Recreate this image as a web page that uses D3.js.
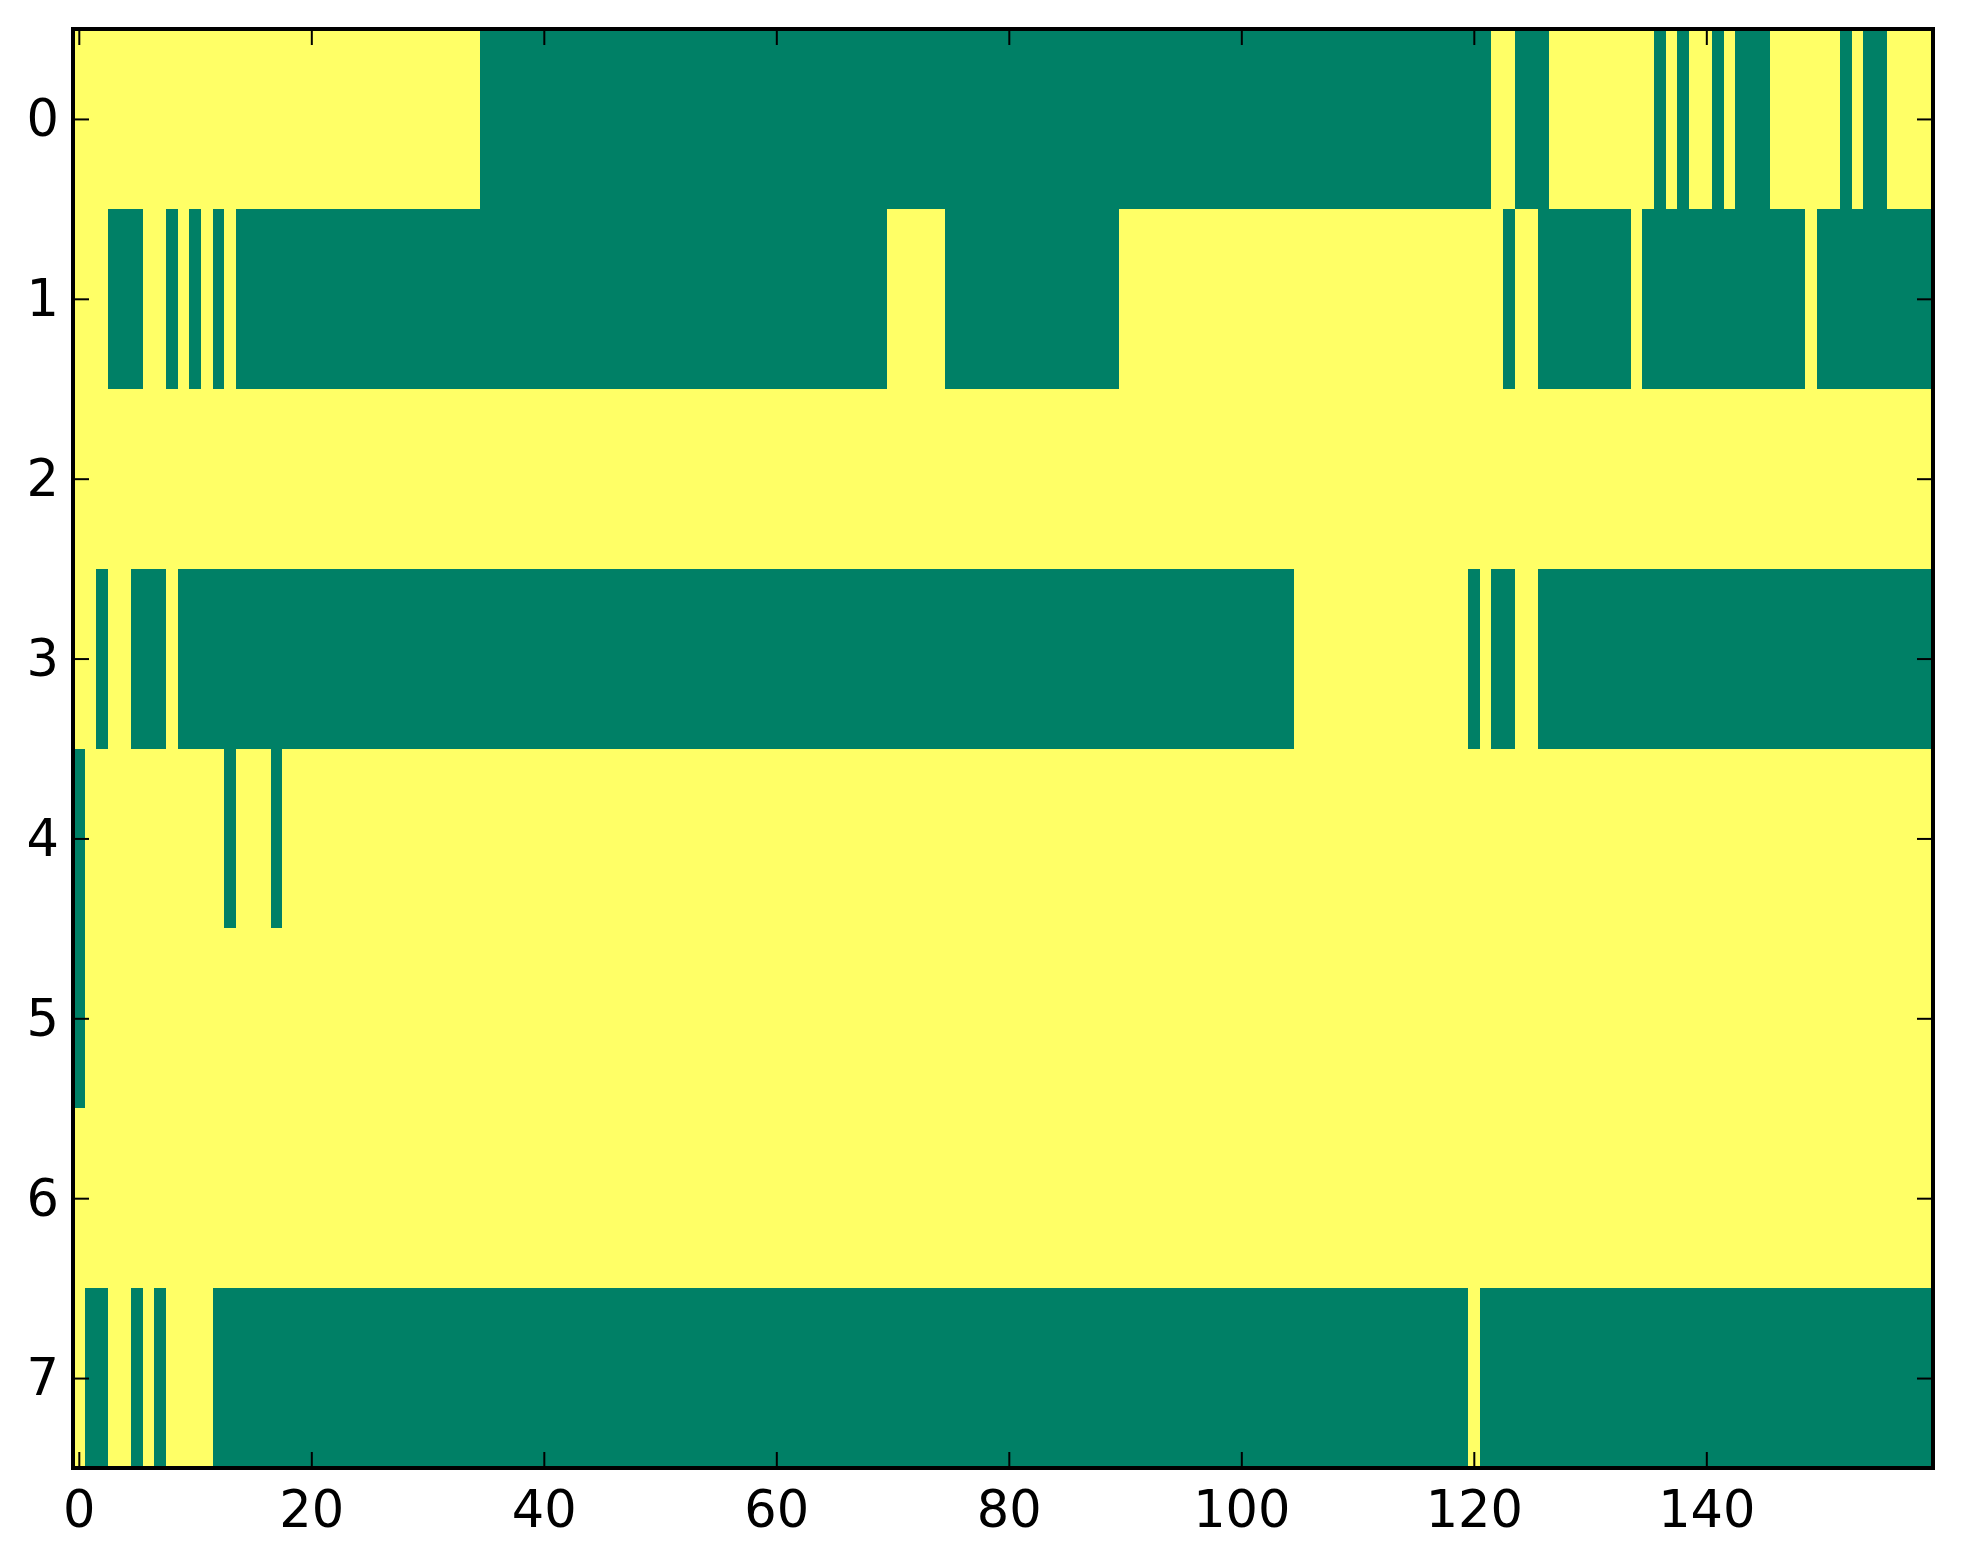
<!DOCTYPE html>
<html>
<head>
<meta charset="utf-8">
<script src="https://cdn.jsdelivr.net/npm/d3@7"></script>
<style>
  body { margin: 0; background: #ffffff; }
  text { font-family: "DejaVu Sans", sans-serif; }
</style>
</head>
<body>
<script>
// Grid values: 1 = yellow, 0 = green (groups of 10 columns)
var row0 = "1111111111 1111111111 1111111111 1111100000 0000000000 0000000000 0000000000 0000000000 0000000000 0000000000 0000000000 0000000000 0011000111 1111110101 1010001111 1101001111";
var row1 = "1110001101 0101000000 0000000000 0000000000 0000000000 0000000000 0000000000 1111100000 0000000000 1111111111 1111111111 1111111111 1110110000 0000100000 0000000001 0000000000";
var row2 = "1111111111 1111111111 1111111111 1111111111 1111111111 1111111111 1111111111 1111111111 1111111111 1111111111 1111111111 1111111111 1111111111 1111111111 1111111111 1111111111";
var row3 = "1101100010 0000000000 0000000000 0000000000 0000000000 0000000000 0000000000 0000000000 0000000000 0000000000 0000011111 1111111111 0100110000 0000000000 0000000000 0000000000";
var row4 = "0111111111 1110111011 1111111111 1111111111 1111111111 1111111111 1111111111 1111111111 1111111111 1111111111 1111111111 1111111111 1111111111 1111111111 1111111111 1111111111";
var row5 = "0111111111 1111111111 1111111111 1111111111 1111111111 1111111111 1111111111 1111111111 1111111111 1111111111 1111111111 1111111111 1111111111 1111111111 1111111111 1111111111";
var row6 = "1111111111 1111111111 1111111111 1111111111 1111111111 1111111111 1111111111 1111111111 1111111111 1111111111 1111111111 1111111111 1111111111 1111111111 1111111111 1111111111";
var row7 = "1001101011 1100000000 0000000000 0000000000 0000000000 0000000000 0000000000 0000000000 0000000000 0000000000 0000000000 0000000000 1000000000 0000000000 0000000000 0000000000";

var rows = [row0, row1, row2, row3, row4, row5, row6, row7];
var xTicks = [0, 20, 40, 60, 80, 100, 120, 140];
var yTicks = [0, 1, 2, 3, 4, 5, 6, 7];

// SVG size and plot box
var svgWidth = 1963;
var svgHeight = 1564;
var plot = { left: 73, right: 1933, top: 29, bottom: 1468 };

var svg = d3.select("body")
  .append("svg")
  .attr("width", svgWidth)
  .attr("height", svgHeight);

// build the cells from the row strings
var cells = [];
rows.forEach(function(r, i) {
  r.replace(/ /g, "").split("").forEach(function(v, j) {
    cells.push({ row: i, col: j, value: +v });
  });
});

var nCols = rows[0].replace(/ /g, "").length;

var x = d3.scaleLinear()
  .domain([-0.5, nCols - 0.5])
  .range([plot.left, plot.right]);

var y = d3.scaleLinear()
  .domain([-0.5, rows.length - 0.5])
  .range([plot.top, plot.bottom]);

// summer colormap ends
var color = d3.scaleOrdinal()
  .domain([0, 1])
  .range(["#008066", "#ffff66"]);

svg.append("g")
  .attr("shape-rendering", "crispEdges")
  .selectAll("rect")
  .data(cells)
  .enter()
  .append("rect")
  .attr("x", d => x(d.col - 0.5))
  .attr("y", d => y(d.row - 0.5))
  .attr("width", d => x(d.col + 0.5) - x(d.col - 0.5) + 0.5)
  .attr("height", d => y(d.row + 0.5) - y(d.row - 0.5) + 0.5)
  .attr("fill", d => color(d.value));

// axes with inward ticks on all four sides
var tickLen = 16;
var fontSize = 51;

var bottomAxis = d3.axisBottom(x).tickValues(xTicks).tickSize(-tickLen).tickPadding(23);
var topAxis = d3.axisTop(x).tickValues(xTicks).tickSize(-tickLen).tickFormat("");
var leftAxis = d3.axisLeft(y).tickValues(yTicks).tickSize(-tickLen).tickPadding(14);
var rightAxis = d3.axisRight(y).tickValues(yTicks).tickSize(-tickLen).tickFormat("");

function styleAxis(g) {
  g.select(".domain").remove();
  g.selectAll(".tick line").attr("stroke", "#000").attr("stroke-width", 2);
  g.selectAll(".tick text")
    .attr("fill", "#000")
    .style("font-size", fontSize + "px");
}

svg.append("g")
  .attr("transform", `translate(0, ${plot.bottom})`)
  .call(bottomAxis)
  .call(styleAxis)
  .selectAll(".tick text")
  .attr("y", 59)
  .attr("dy", "0");

svg.append("g")
  .attr("transform", `translate(0, ${plot.top})`)
  .call(topAxis)
  .call(styleAxis);

svg.append("g")
  .attr("transform", `translate(${plot.left}, 0)`)
  .call(leftAxis)
  .call(styleAxis)
  .selectAll(".tick text")
  .attr("dy", "0.33em");

svg.append("g")
  .attr("transform", `translate(${plot.right}, 0)`)
  .call(rightAxis)
  .call(styleAxis);

svg.selectAll(".tick text").attr("font-family", "DejaVu Sans");

// frame
svg.append("rect")
  .attr("x", plot.left)
  .attr("y", plot.top)
  .attr("width", plot.right - plot.left)
  .attr("height", plot.bottom - plot.top)
  .attr("fill", "none")
  .attr("stroke", "#000")
  .attr("stroke-width", 4);
</script>
</body>
</html>
